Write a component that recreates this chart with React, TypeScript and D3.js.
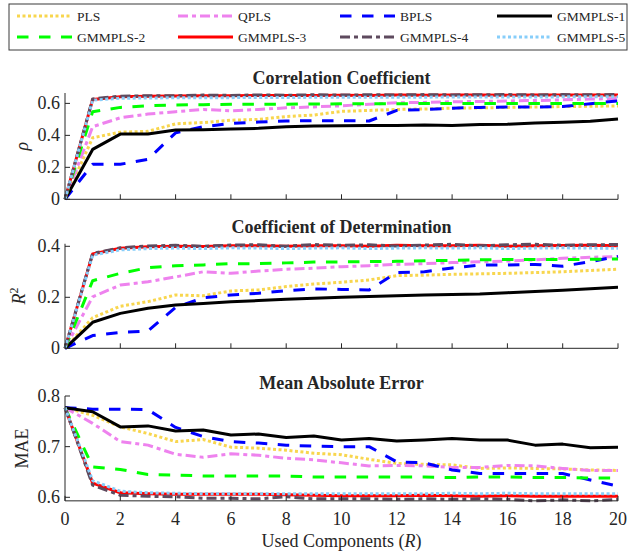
import * as d3 from "d3"

const components = [0, 1, 2, 3, 4, 5, 6, 7, 8, 9, 10, 11, 12, 13, 14, 15, 16, 17, 18, 19, 20]
const methods = ["PLS", "QPLS", "BPLS", "GMMPLS-1", "GMMPLS-2", "GMMPLS-3", "GMMPLS-4", "GMMPLS-5"]
const xTicks = [0, 2, 4, 6, 8, 10, 12, 14, 16, 18, 20]

// Correlation coefficient (rho)
const rhoPLS = [0, 0.385, 0.42, 0.425, 0.472, 0.48, 0.495, 0.5, 0.518, 0.527, 0.55, 0.556, 0.562, 0.565, 0.57, 0.572, 0.575, 0.578, 0.58, 0.582, 0.584]
const rhoQPLS = [0, 0.454, 0.51, 0.533, 0.548, 0.562, 0.554, 0.562, 0.572, 0.578, 0.585, 0.595, 0.604, 0.606, 0.61, 0.612, 0.615, 0.618, 0.622, 0.627, 0.631]
const rhoBPLS = [0, 0.219, 0.219, 0.25, 0.416, 0.454, 0.475, 0.483, 0.49, 0.492, 0.492, 0.49, 0.556, 0.562, 0.57, 0.575, 0.577, 0.577, 0.58, 0.598, 0.616]
const rhoGMM1 = [0, 0.312, 0.408, 0.408, 0.433, 0.435, 0.44, 0.444, 0.454, 0.458, 0.46, 0.461, 0.462, 0.465, 0.462, 0.468, 0.47, 0.478, 0.482, 0.488, 0.503]
const rhoGMM2 = [0, 0.548, 0.575, 0.585, 0.59, 0.592, 0.594, 0.595, 0.595, 0.596, 0.597, 0.598, 0.598, 0.599, 0.6, 0.6, 0.6, 0.6, 0.6, 0.6, 0.6]
const rhoGMM3 = [0, 0.625, 0.642, 0.645, 0.647, 0.648, 0.648, 0.65, 0.649, 0.65, 0.651, 0.65, 0.652, 0.651, 0.652, 0.652, 0.651, 0.652, 0.653, 0.652, 0.653]
const rhoGMM4 = [0, 0.628, 0.645, 0.648, 0.648, 0.652, 0.65, 0.653, 0.651, 0.654, 0.652, 0.654, 0.653, 0.655, 0.653, 0.654, 0.655, 0.653, 0.655, 0.654, 0.655]
const rhoGMM5 = [0, 0.62, 0.632, 0.634, 0.635, 0.636, 0.636, 0.637, 0.637, 0.638, 0.638, 0.638, 0.639, 0.639, 0.64, 0.64, 0.64, 0.64, 0.641, 0.641, 0.641]

// Coefficient of determination (R^2)
const r2PLS = [0, 0.12, 0.165, 0.183, 0.209, 0.206, 0.225, 0.229, 0.242, 0.252, 0.259, 0.268, 0.285, 0.287, 0.29, 0.292, 0.294, 0.297, 0.3, 0.305, 0.31]
const r2QPLS = [0, 0.202, 0.248, 0.261, 0.28, 0.3, 0.294, 0.303, 0.31, 0.314, 0.32, 0.324, 0.329, 0.332, 0.336, 0.339, 0.342, 0.347, 0.353, 0.357, 0.36]
const r2BPLS = [0, 0.05, 0.062, 0.068, 0.16, 0.198, 0.209, 0.216, 0.226, 0.233, 0.231, 0.229, 0.297, 0.3, 0.315, 0.326, 0.327, 0.329, 0.322, 0.34, 0.36]
const r2GMM1 = [0, 0.102, 0.137, 0.157, 0.17, 0.176, 0.183, 0.187, 0.192, 0.196, 0.2, 0.203, 0.206, 0.209, 0.211, 0.213, 0.218, 0.223, 0.228, 0.234, 0.239]
const r2GMM2 = [0, 0.265, 0.294, 0.316, 0.324, 0.327, 0.332, 0.332, 0.335, 0.338, 0.339, 0.34, 0.341, 0.343, 0.345, 0.347, 0.348, 0.348, 0.348, 0.349, 0.35]
const r2GMM3 = [0, 0.37, 0.392, 0.398, 0.4, 0.399, 0.402, 0.402, 0.4, 0.402, 0.402, 0.4, 0.404, 0.402, 0.402, 0.404, 0.4, 0.402, 0.403, 0.404, 0.402]
const r2GMM4 = [0, 0.372, 0.394, 0.401, 0.404, 0.4, 0.405, 0.406, 0.4, 0.407, 0.404, 0.406, 0.401, 0.405, 0.408, 0.402, 0.406, 0.408, 0.404, 0.406, 0.407]
const r2GMM5 = [0, 0.365, 0.386, 0.391, 0.393, 0.391, 0.394, 0.393, 0.391, 0.393, 0.394, 0.391, 0.393, 0.394, 0.393, 0.394, 0.391, 0.393, 0.394, 0.393, 0.392]

// Mean absolute error
const maePLS = [0.777, 0.762, 0.739, 0.726, 0.71, 0.714, 0.699, 0.697, 0.693, 0.687, 0.684, 0.675, 0.667, 0.665, 0.664, 0.657, 0.658, 0.657, 0.656, 0.654, 0.653]
const maeQPLS = [0.777, 0.746, 0.71, 0.703, 0.685, 0.679, 0.686, 0.683, 0.677, 0.674, 0.668, 0.662, 0.663, 0.662, 0.659, 0.659, 0.663, 0.662, 0.657, 0.653, 0.653]
const maeBPLS = [0.777, 0.774, 0.774, 0.773, 0.738, 0.72, 0.71, 0.707, 0.703, 0.701, 0.7, 0.7, 0.67, 0.668, 0.654, 0.647, 0.647, 0.647, 0.647, 0.634, 0.622]
const maeGMM1 = [0.777, 0.769, 0.739, 0.741, 0.731, 0.733, 0.723, 0.725, 0.718, 0.721, 0.713, 0.716, 0.711, 0.713, 0.716, 0.713, 0.713, 0.703, 0.705, 0.698, 0.699]
const maeGMM2 = [0.777, 0.66, 0.655, 0.645, 0.644, 0.642, 0.642, 0.642, 0.642, 0.64, 0.64, 0.64, 0.64, 0.64, 0.639, 0.64, 0.64, 0.639, 0.639, 0.638, 0.638]
const maeGMM3 = [0.777, 0.628, 0.609, 0.607, 0.606, 0.606, 0.606, 0.606, 0.605, 0.604, 0.603, 0.603, 0.603, 0.604, 0.603, 0.602, 0.603, 0.602, 0.602, 0.602, 0.602]
const maeGMM4 = [0.777, 0.624, 0.604, 0.602, 0.601, 0.598, 0.598, 0.597, 0.601, 0.597, 0.597, 0.597, 0.596, 0.597, 0.596, 0.597, 0.596, 0.593, 0.595, 0.593, 0.596]
const maeGMM5 = [0.777, 0.633, 0.612, 0.609, 0.608, 0.607, 0.607, 0.607, 0.607, 0.607, 0.607, 0.607, 0.607, 0.607, 0.608, 0.607, 0.608, 0.607, 0.607, 0.607, 0.607]

// line styles per method
const styles: Record<string, { color: string; dash: string }> = {
  PLS: { color: "#f8d64e", dash: "3 2.5" },
  QPLS: { color: "#ee82ee", dash: "10 4 4 4" },
  BPLS: { color: "#0000ff", dash: "11.5 10.5" },
  "GMMPLS-1": { color: "#000000", dash: "none" },
  "GMMPLS-2": { color: "#00ff00", dash: "11.5 10.5" },
  "GMMPLS-3": { color: "#ff0000", dash: "none" },
  "GMMPLS-4": { color: "#5e4a5e", dash: "10 4 4 4" },
  "GMMPLS-5": { color: "#87cefa", dash: "3 2.5" },
}

const axisColor = "#262626"
const font = "'Liberation Serif', 'Times New Roman', serif"

const x = d3.scaleLinear().domain([0, 20]).range([65, 618])

const panels = [
  {
    title: "Correlation Coefficient",
    series: [rhoPLS, rhoQPLS, rhoBPLS, rhoGMM1, rhoGMM2, rhoGMM3, rhoGMM4, rhoGMM5],
    y: d3.scaleLinear().domain([0, 0.665]).range([199.3, 93]),
    ticks: [0, 0.2, 0.4, 0.6],
    titleY: 84,
    label: "rho",
    labelX: 28,
    showX: false,
  },
  {
    title: "Coefficient of Determination",
    series: [r2PLS, r2QPLS, r2BPLS, r2GMM1, r2GMM2, r2GMM3, r2GMM4, r2GMM5],
    y: d3.scaleLinear().domain([0, 0.41]).range([348.3, 243.75]),
    ticks: [0, 0.2, 0.4],
    titleY: 233,
    label: "r2",
    labelX: 25,
    showX: false,
  },
  {
    title: "Mean Absolute Error",
    series: [maePLS, maeQPLS, maeBPLS, maeGMM1, maeGMM2, maeGMM3, maeGMM4, maeGMM5],
    y: d3.scaleLinear().domain([0.593, 0.8]).range([500.85, 396]),
    ticks: [0.6, 0.7, 0.8],
    titleY: 389,
    label: "mae",
    labelX: 28,
    showX: true,
  },
]

function Panel({ p }: { p: (typeof panels)[number] }) {
  const [y0, y1] = p.y.range()
  const midY = (y0 + y1) / 2
  const line = (vals: number[]) =>
    d3
      .line<number>()
      .x((_, i) => x(components[i]))
      .y((d) => p.y(d))(vals) || ""
  const fmt = (v: number) => (v === 0 ? "0" : d3.format(".1f")(v))

  return (
    <g>
      <text x={(x(0) + x(20)) / 2} y={p.titleY} textAnchor="middle" fontWeight="bold" fontSize={18} fill={axisColor}>
        {p.title}
      </text>
      {/* series */}
      {p.series.map((vals, i) => (
        <path
          key={methods[i]}
          d={line(vals)}
          fill="none"
          stroke={styles[methods[i]].color}
          strokeWidth={3}
          strokeDasharray={styles[methods[i]].dash}
          strokeLinejoin="round"
        />
      ))}
      {/* axes */}
      <line x1={x(0)} x2={x(0)} y1={y0} y2={y1} stroke={axisColor} strokeWidth={1} />
      <line x1={x(0)} x2={x(20)} y1={y0} y2={y0} stroke={axisColor} strokeWidth={1} />
      {p.ticks.map((t) => (
        <g key={t}>
          <line x1={x(0)} x2={x(0) + 5} y1={p.y(t)} y2={p.y(t)} stroke={axisColor} />
          <text x={60} y={p.y(t)} dy="0.33em" textAnchor="end" fontSize={18} fill={axisColor}>
            {fmt(t)}
          </text>
        </g>
      ))}
      {xTicks.map((t) => (
        <g key={t}>
          <line x1={x(t)} x2={x(t)} y1={y0} y2={y0 - 5} stroke={axisColor} />
          {p.showX && (
            <text x={x(t)} y={525} textAnchor="middle" fontSize={18} fill={axisColor}>
              {t}
            </text>
          )}
        </g>
      ))}
      <g transform={`translate(${p.labelX},${midY}) rotate(-90)`}>
        <text textAnchor="middle" fontSize={18} fill={axisColor}>
          {p.label === "rho" && <tspan fontStyle="italic">ρ</tspan>}
          {p.label === "r2" && (
            <>
              <tspan fontStyle="italic">R</tspan>
              <tspan fontSize={12} dy={-7}>2</tspan>
            </>
          )}
          {p.label === "mae" && "MAE"}
        </text>
      </g>
    </g>
  )
}

function Legend() {
  const colX = [17, 178, 340, 497]
  const rowY = [16, 37]
  return (
    <g>
      <rect x={9} y={4} width={618} height={46} fill="#fff" stroke="#3a3a3a" strokeWidth={1} />
      {methods.map((m, i) => {
        const cx = colX[i % 4]
        const cy = rowY[Math.floor(i / 4)]
        return (
          <g key={m}>
            <line
              x1={cx}
              x2={cx + 55}
              y1={cy}
              y2={cy}
              stroke={styles[m].color}
              strokeWidth={3}
              strokeDasharray={styles[m].dash}
            />
            <text x={cx + 60} y={cy} dy="0.35em" fontSize={13.5} fill={axisColor}>
              {m}
            </text>
          </g>
        )
      })}
    </g>
  )
}

export default function App() {
  return (
    <svg
      width={631}
      height={555}
      style={{ position: "absolute", left: 0, top: 0, background: "#fff" }}
      fontFamily={font}
    >
      <rect width={631} height={555} fill="#fff" />
      <Legend />
      {panels.map((p) => (
        <Panel key={p.title} p={p} />
      ))}
      <text x={(x(0) + x(20)) / 2} y={547} textAnchor="middle" fontSize={18} fill={axisColor}>
        Used Components (<tspan fontStyle="italic">R</tspan>)
      </text>
    </svg>
  )
}
